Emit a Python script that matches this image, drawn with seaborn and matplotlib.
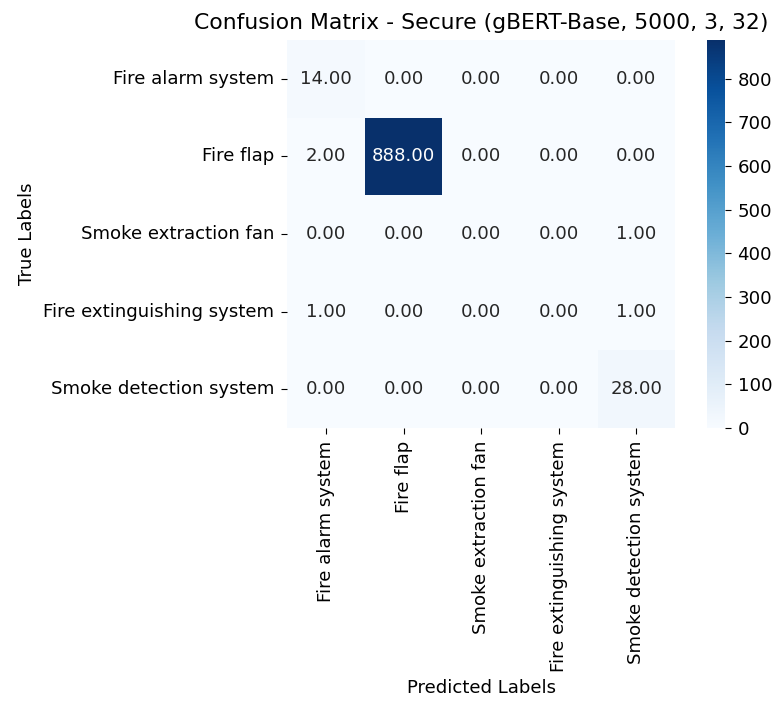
import numpy as np
import matplotlib
matplotlib.use("Agg")
import matplotlib.pyplot as plt
import seaborn as sns

labels = ["Fire alarm system", "Fire flap", "Smoke extraction fan",
          "Fire extinguishing system", "Smoke detection system"]
row0 = [14, 0, 0, 0, 0]
row1 = [2, 888, 0, 0, 0]
row2 = [0, 0, 0, 0, 1]
row3 = [1, 0, 0, 0, 1]
row4 = [0, 0, 0, 0, 28]
cm = np.array([row0, row1, row2, row3, row4], dtype=float)

s = 1.31
plt.rcParams['font.family'] = ['DejaVu Sans']
plt.rcParams['xtick.major.size'] = 3.5 * s
plt.rcParams['ytick.major.size'] = 3.5 * s
plt.rcParams['xtick.major.pad'] = 3.5 * s
plt.rcParams['ytick.major.pad'] = 3.5 * s
plt.rcParams['axes.labelpad'] = 4 * s
plt.rcParams['axes.titlepad'] = 6 * s
fig = plt.figure(figsize=(7.76, 7.04), dpi=100)
ax = fig.add_axes([0.370, 0.392, 0.500, 0.551])
cax = fig.add_axes([0.911, 0.392, 0.023, 0.551])
sns.heatmap(cm, annot=True, fmt=".2f", cmap="Blues", ax=ax, cbar_ax=cax,
            xticklabels=labels, yticklabels=labels,
            annot_kws={"fontsize": 10 * s})
ax.set_xlabel("Predicted Labels", fontsize=10 * s)
ax.set_ylabel("True Labels", fontsize=10 * s)
ax.set_title("Confusion Matrix - Secure (gBERT-Base, 5000, 3, 32)", fontsize=12 * s)
ax.tick_params(axis='both', labelsize=10 * s)
plt.setp(ax.get_xticklabels(), rotation=90)
plt.setp(ax.get_yticklabels(), rotation=0)
cax.tick_params(labelsize=10 * s)
fig.savefig("out.png", dpi=100)
